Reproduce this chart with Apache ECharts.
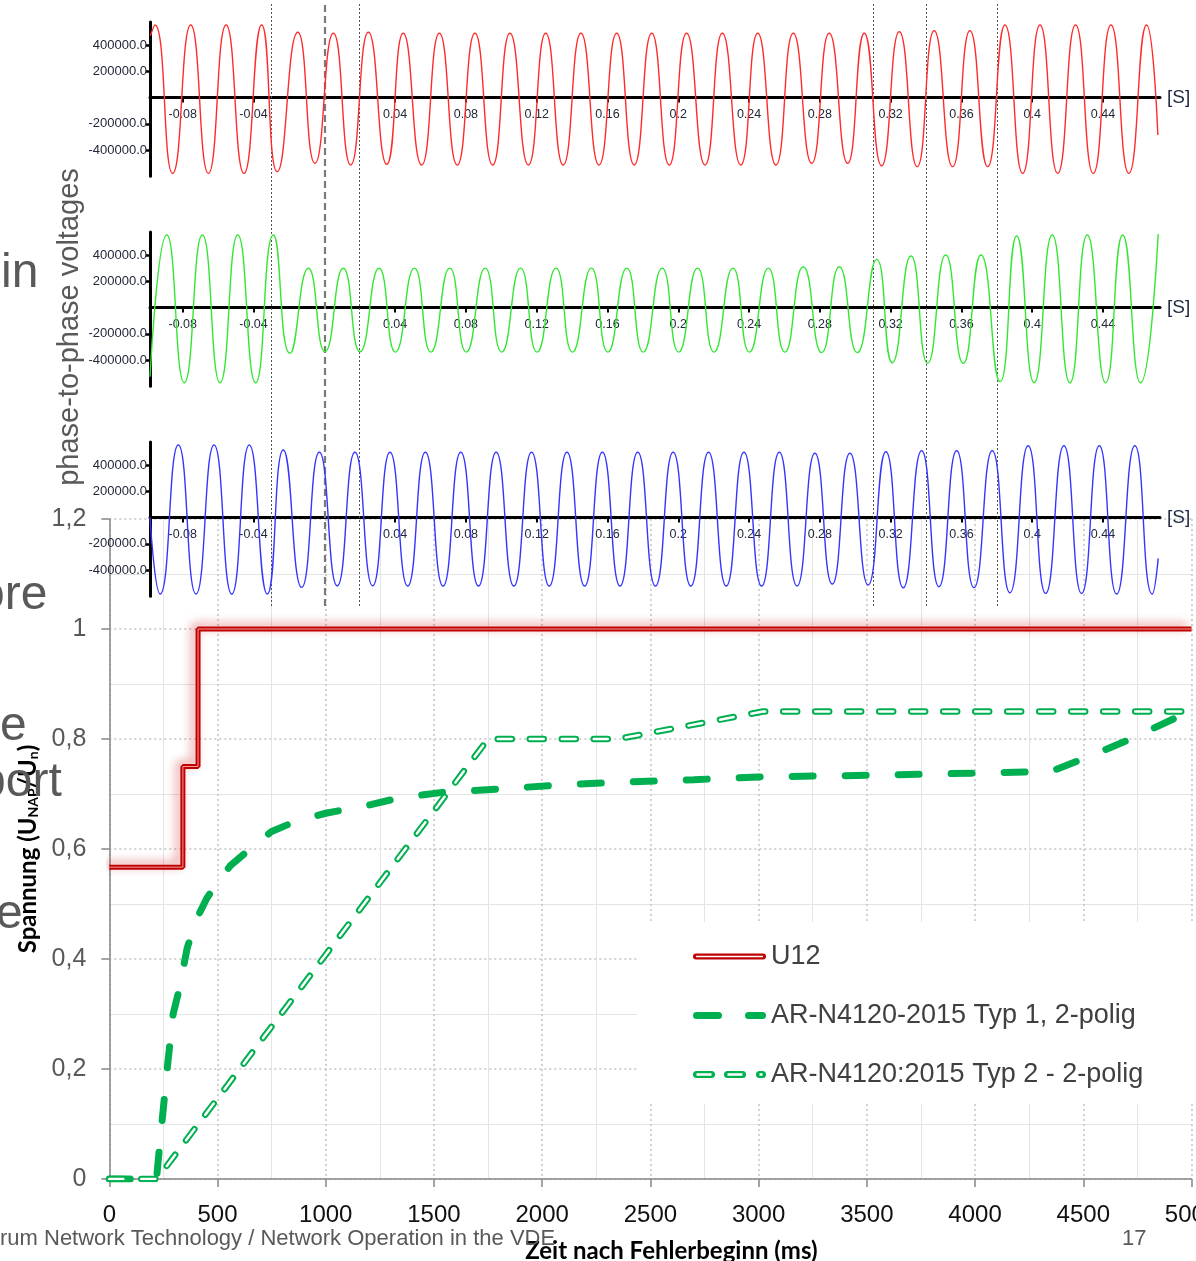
<!DOCTYPE html>
<html>
<head>
<meta charset="utf-8">
<script src="https://cdn.jsdelivr.net/npm/echarts@6/dist/echarts.min.js"></script>
<style>
  html, body { margin: 0; padding: 0; background: #fff; }
  #chart { width: 1196px; height: 1261px; }
</style>
</head>
<body>
<div id="chart"></div>
<script>
// ---- upper panels: peaks / troughs (time in s, voltage in V)
var redT = [-0.0983, -0.0957, -0.0857, -0.0755, -0.0655, -0.0555, -0.0454, -0.0354, -0.0266, -0.0150, -0.0053,
  0.0051, 0.0149, 0.0249, 0.0353, 0.0446, 0.0550, 0.0650, 0.0751, 0.0851, 0.0951, 0.1049, 0.1153, 0.1251,
  0.1350, 0.1450, 0.1552, 0.1652, 0.1751, 0.1850, 0.1949, 0.2047, 0.2151, 0.2249, 0.2353, 0.2449, 0.2552,
  0.2650, 0.2754, 0.2853, 0.2957, 0.3051, 0.3149, 0.3249, 0.3350, 0.3446, 0.3550, 0.3648, 0.3748, 0.3846,
  0.3946, 0.4044, 0.4144, 0.4245, 0.4345, 0.4445, 0.4546, 0.4646, 0.4710];
var redV = [470000, 552000, -578000, 552000, -578000, 552000, -578000, 552000, -565000, 497000, -501000,
  489000, -514000, 497000, -509000, 489000, -514000, 489000, -514000, 489000, -514000, 489000, -514000, 489000,
  -514000, 489000, -514000, 489000, -514000, 489000, -514000, 489000, -514000, 489000, -514000, 489000, -514000,
  489000, -501000, 489000, -501000, 489000, -520000, 501000, -527000, 509000, -527000, 509000, -527000, 552000,
  -578000, 552000, -578000, 552000, -578000, 552000, -578000, 552000, -286000];

var greenT = [-0.0985, -0.0890, -0.0791, -0.0689, -0.0589, -0.0489, -0.0388, -0.0288, -0.0194, -0.0090, 0.0004,
  0.0107, 0.0202, 0.0309, 0.0402, 0.0509, 0.0602, 0.0709, 0.0802, 0.0909, 0.1002, 0.1109, 0.1202, 0.1309,
  0.1402, 0.1509, 0.1602, 0.1709, 0.1802, 0.1909, 0.2002, 0.2109, 0.2202, 0.2309, 0.2402, 0.2509, 0.2602,
  0.2706, 0.2810, 0.2910, 0.3011, 0.3121, 0.3209, 0.3315, 0.3409, 0.3511, 0.3610, 0.3710, 0.3818, 0.3912,
  0.4011, 0.4113, 0.4213, 0.4311, 0.4415, 0.4511, 0.4612, 0.4712];
var greenV = [-527000, 552000, -573000, 552000, -573000, 552000, -573000, 552000, -349000, 299000, -337000,
  299000, -337000, 299000, -340000, 300000, -340000, 300000, -340000, 300000, -340000, 300000, -340000, 300000,
  -340000, 300000, -340000, 300000, -340000, 300000, -340000, 300000, -340000, 300000, -340000, 300000, -340000,
  311000, -344000, 311000, -344000, 367000, -421000, 392000, -425000, 400000, -425000, 400000, -565000, 545000,
  -573000, 552000, -573000, 552000, -573000, 552000, -573000, 560000];

var blueT = [-0.0985, -0.0928, -0.0825, -0.0725, -0.0623, -0.0523, -0.0424, -0.0322, -0.0232, -0.0128, -0.0028,
  0.0073, 0.0173, 0.0273, 0.0371, 0.0471, 0.0571, 0.0671, 0.0771, 0.0871, 0.0971, 0.1071, 0.1171, 0.1271,
  0.1371, 0.1471, 0.1571, 0.1671, 0.1771, 0.1871, 0.1971, 0.2071, 0.2171, 0.2271, 0.2371, 0.2471, 0.2571,
  0.2671, 0.2772, 0.2870, 0.2970, 0.3073, 0.3173, 0.3271, 0.3375, 0.3473, 0.3573, 0.3671, 0.3774, 0.3874,
  0.3977, 0.4076, 0.4179, 0.4279, 0.4379, 0.4477, 0.4580, 0.4678, 0.4712];
var blueV = [0, -583000, 552000, -583000, 552000, -583000, 552000, -583000, 514000, -532000, 497000,
  -520000, 497000, -520000, 497000, -522000, 497000, -522000, 497000, -522000, 497000, -522000, 497000, -522000,
  497000, -522000, 497000, -522000, 497000, -522000, 497000, -522000, 497000, -522000, 497000, -522000, 497000,
  -522000, 489000, -507000, 489000, -514000, 501000, -535000, 509000, -527000, 509000, -535000, 509000, -573000,
  547000, -578000, 547000, -578000, 547000, -583000, 547000, -583000, -311000];

// event markers (s); the second one is the heavy dashed line
var markerT = [-0.0273, -0.0007, 0.0185, 0.3077, 0.3371, 0.3806];
var waveTicksX = [-0.08, -0.04, 0.04, 0.08, 0.12, 0.16, 0.2, 0.24, 0.28, 0.32, 0.36, 0.4, 0.44];
var waveTicksY = [-400000, -200000, 200000, 400000];

// ---- lower chart: [ms, U/Un]
var u12 = [[0, 0.567], [340, 0.567], [340, 0.75], [410, 0.75], [410, 1], [5000, 1]];
var typ1 = [[0, 0], [218, 0], [230, 0.05], [250, 0.13], [270, 0.21], [295, 0.3], [320, 0.34], [360, 0.42],
  [400, 0.47], [450, 0.51], [500, 0.54], [560, 0.57], [650, 0.6], [750, 0.632], [860, 0.65], [1000, 0.665],
  [1200, 0.68], [1340, 0.693], [1540, 0.703], [1800, 0.709], [2100, 0.717], [2400, 0.722], [2700, 0.726],
  [3000, 0.731], [3500, 0.734], [4000, 0.738], [4350, 0.741], [4500, 0.764], [4720, 0.8], [5000, 0.852]];
var typ2 = [[0, 0], [220, 0], [1750, 0.8], [2350, 0.8], [3020, 0.85], [5000, 0.85]];

var names = ['U12', 'AR-N4120-2015 Typ 1, 2-polig', 'AR-N4120:2015 Typ 2 - 2-polig'];

// legend icons drawn like the Excel ones (73 x 14 box)
var BOX = 'M0 0 L0 0 M73 14 L73 14 ';
function capsule(x0, x1) {
  return 'M' + x0 + ' 3.5 L' + x1 + ' 3.5 A3.5 3.5 0 0 1 ' + x1 + ' 10.5 L' + x0 + ' 10.5 A3.5 3.5 0 0 1 ' + x0 + ' 3.5 Z ';
}
function hole(x0, x1, h) {
  return 'M' + x0 + ' ' + (7 - h) + ' L' + x0 + ' ' + (7 + h) + ' L' + x1 + ' ' + (7 + h) + ' L' + x1 + ' ' + (7 - h) + ' Z ';
}
var legendIcons = [
  'path://' + BOX + 'M2.5 4 L70.5 4 A3 3 0 0 1 70.5 10 L2.5 10 A3 3 0 0 1 2.5 4 Z ' + hole(2.5, 70.5, 0.8),
  'path://' + BOX + capsule(3.5, 25.5) + capsule(55.5, 69.5),
  'path://' + BOX + capsule(3.5, 18.5) + hole(3.5, 18.5, 1.2) + capsule(34.5, 49.5) + hole(34.5, 49.5, 1.2) +
    capsule(66.5, 69.5) + hole(66.5, 69.5, 1.2)
];

function pairs(t, v) { return t.map(function (x, i) { return [x, v[i]]; }); }

var chart = echarts.init(document.getElementById('chart'));

var waveZero = [97.5, 307.5, 517.5];
var waveColors = ['#ff2a2a', '#33e633', '#3535ff'];
var waveData = [pairs(redT, redV), pairs(greenT, greenV), pairs(blueT, blueV)];
var wMin = -0.0985, wMax = 0.4722;
var pxPerVolt = 1.3125e-4;

var grids = [], xAxes = [], yAxes = [], series = [];

// lower (Excel) chart first so the recorder plots sit on top
grids.push({ left: 109.3, top: 519, width: 1082.2, height: 660, outerBoundsMode: 'none' });
xAxes.push({
  gridIndex: 0, type: 'value', min: 0, max: 5000, interval: 500,
  axisLine: { lineStyle: { color: '#868686', width: 1.5 } },
  axisTick: { length: 8, lineStyle: { color: '#868686', width: 1.5 } },
  axisLabel: { fontSize: 24, color: '#111', margin: 24, fontFamily: 'Liberation Sans',
    formatter: function (v) { return String(v); } },
  splitLine: { lineStyle: { color: '#c4c4c4', width: 1.5, type: [2, 3] } },
  minorTick: { show: false, splitNumber: 2 },
  minorSplitLine: { show: true, lineStyle: { color: '#e4e4e4', width: 1 } },
  name: 'Zeit nach Fehlerbeginn (ms)', nameLocation: 'middle', nameGap: 60,
  nameTextStyle: { fontFamily: 'Lato', fontWeight: 'bold', fontSize: 24, color: '#000', padding: [0, 0, 0, 42] }
});
yAxes.push({
  gridIndex: 0, type: 'value', min: 0, max: 1.2, interval: 0.2,
  axisLine: { show: true, lineStyle: { color: '#868686', width: 1.5 } },
  axisTick: { show: true, length: 8, lineStyle: { color: '#868686', width: 1.5 } },
  axisLabel: {
    fontSize: 25, color: '#595959', margin: 23, fontFamily: 'Liberation Sans',
    formatter: function (v) { return String(Number(v.toFixed(1))).replace('.', ','); }
  },
  splitLine: { lineStyle: { color: '#c4c4c4', width: 1.5, type: [2, 3] } },
  minorTick: { show: false, splitNumber: 2 },
  minorSplitLine: { show: true, lineStyle: { color: '#e4e4e4', width: 1 } },
  name: 'Spannung (U{s|NAP}/U{s|n})', nameLocation: 'middle', nameGap: 64,
  nameTextStyle: {
    fontFamily: 'Lato', fontWeight: 'bold', fontSize: 24, color: '#000',
    rich: { s: { fontFamily: 'Lato', fontWeight: 'bold', fontSize: 14, color: '#000', padding: [11, 0, 0, 0] } }
  }
});

series.push({
  name: names[0], type: 'line', xAxisIndex: 0, yAxisIndex: 0, data: u12, symbol: 'none', z: 3,
  itemStyle: { color: '#c00000' },
  lineStyle: { color: '#c00000', width: 5, shadowColor: 'rgba(210,40,40,0.5)', shadowBlur: 10, shadowOffsetX: -4, shadowOffsetY: -3 }
});
series.push({
  name: 'u12-core', type: 'line', xAxisIndex: 0, yAxisIndex: 0, data: u12, symbol: 'none', z: 4, silent: true,
  lineStyle: { color: '#f39a9a', width: 1 }
});
series.push({
  name: names[1], type: 'line', xAxisIndex: 0, yAxisIndex: 0, data: typ1, symbol: 'none', z: 3,
  itemStyle: { color: '#00b050' },
  lineStyle: { color: '#00b050', width: 7, type: [21, 32], cap: 'round' }
});
series.push({
  name: names[2], type: 'line', xAxisIndex: 0, yAxisIndex: 0, data: typ2, symbol: 'none', z: 3,
  itemStyle: { color: '#00b050' },
  lineStyle: { color: '#00b050', width: 6.5, type: [14, 18], cap: 'round' }
});
series.push({
  name: 'typ2-core', type: 'line', xAxisIndex: 0, yAxisIndex: 0, data: typ2, symbol: 'none', z: 4, silent: true,
  lineStyle: { color: '#ffffff', width: 2.5, type: [14, 18], cap: 'round' }
});

// recorder panels
for (var i = 0; i < 3; i++) {
  var gi = i + 1;
  var gridTop = waveZero[i] - 575000 * pxPerVolt;
  grids.push({ left: 150, width: 1010, top: gridTop, height: 1175000 * pxPerVolt, outerBoundsMode: 'none' });
  xAxes.push({
    gridIndex: gi, type: 'value', min: wMin, max: wMax,
    position: 'bottom', offset: -600000 * pxPerVolt,   // lift the time axis onto the zero line
    axisLine: { onZero: false, lineStyle: { color: '#000', width: 3 } },
    axisTick: { customValues: waveTicksX, length: 5, lineStyle: { color: '#000', width: 2 } },
    axisLabel: {
      customValues: waveTicksX, fontSize: 12.5, color: '#22283a', margin: 11, fontFamily: 'Liberation Sans',
      formatter: function (v) { return String(Number(v.toFixed(2))); }
    },
    splitLine: { show: false },
    name: '[S]', nameLocation: 'end', nameGap: 7,
    nameTextStyle: { fontSize: 19, color: '#1f2940', fontFamily: 'Liberation Sans' }
  });
  yAxes.push({
    gridIndex: gi, type: 'value', min: -600000, max: 575000,
    axisLine: { show: true, onZero: false, lineStyle: { color: '#000', width: 3 } },
    axisTick: { show: true, customValues: waveTicksY, length: 4, lineStyle: { color: '#000', width: 2.5 } },
    axisLabel: {
      customValues: waveTicksY, fontSize: 13, color: '#22283a', margin: 3, fontFamily: 'Liberation Sans',
      formatter: function (v) { return v.toFixed(1); }
    },
    splitLine: { show: false }
  });
  series.push({
    type: 'line', xAxisIndex: gi, yAxisIndex: gi, data: waveData[i], symbol: 'none',
    smooth: 0.55, z: 5, silent: true,
    lineStyle: { color: waveColors[i], width: 1.4 }
  });
}

// overlay for the event markers running through all three panels
grids.push({ left: 150, width: 1010, top: 4, height: 602, outerBoundsMode: 'none' });
xAxes.push({ gridIndex: 4, type: 'value', min: wMin, max: wMax, show: false });
yAxes.push({ gridIndex: 4, type: 'value', min: 0, max: 1, show: false });
series.push({
  type: 'line', xAxisIndex: 4, yAxisIndex: 4, data: [[wMin, -1]], symbol: 'none', silent: true, z: 6,
  lineStyle: { opacity: 0 },
  markLine: {
    symbol: 'none', silent: true, label: { show: false },
    data: markerT.map(function (t, k) {
      return {
        xAxis: t,
        lineStyle: k === 1 ? { color: '#7a7a7a', width: 2.2, type: [7, 4] } : { color: '#555', width: 1, type: [2, 2] }
      };
    })
  }
});

function slideText(txt, x, y, size) {
  return { type: 'text', x: x, y: y, silent: true, z: 1,
    style: { text: txt, fontSize: size, fill: '#595959', fontFamily: 'Liberation Sans', verticalAlign: 'middle' } };
}

var option = {
  animation: false,
  backgroundColor: '#fff',
  grid: grids,
  xAxis: xAxes,
  yAxis: yAxes,
  series: series,
  legend: {
    data: names.map(function (n, k) { return { name: n, icon: legendIcons[k] }; }),
    orient: 'vertical', left: 637, top: 922,
    padding: [21, 200, 16, 56], backgroundColor: '#fff',
    itemWidth: 73, itemHeight: 14, itemGap: 32, selectedMode: false,
    textStyle: { fontSize: 27, color: '#404040', fontFamily: 'Liberation Sans' }
  },
  graphic: [
    { type: 'text', x: 70, y: 327, rotation: Math.PI / 2, silent: true,
      style: { text: 'phase-to-phase voltages', fontSize: 29, fill: '#595959', fontFamily: 'Liberation Sans',
        align: 'center', verticalAlign: 'middle' } },
    slideText('in', 1, 274, 48),
    slideText('ore', -22, 596, 48),
    slideText('e', 0, 727, 48),
    slideText('port', -21, 783, 48),
    slideText('e', -4, 915, 48),
    slideText('rum Network Technology / Network Operation in the VDE', 0, 1239, 22),
    slideText('17', 1122, 1239, 22)
  ]
};

chart.setOption(option);
window.addEventListener('resize', function () { chart.resize(); });
</script>
</body>
</html>
